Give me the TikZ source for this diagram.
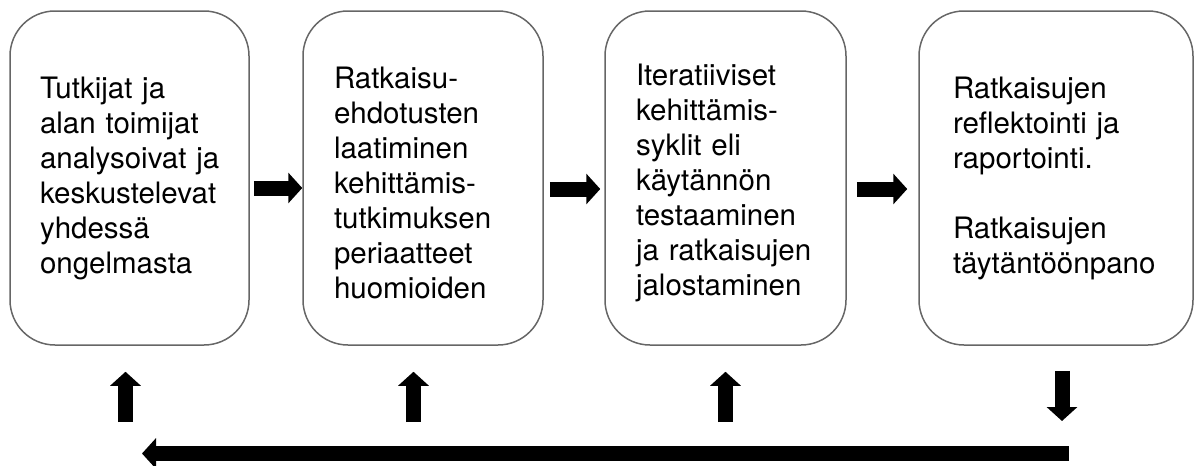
\documentclass[tikz,border=0pt]{standalone}
\usepackage{fontspec}
\setmainfont{TeX Gyre Heros}
\usetikzlibrary{arrows.meta}

\begin{document}
\begin{tikzpicture}[x=1pt,y=-1pt,
	box/.style={shape=rectangle,draw=black!60,line width=1.5pt,rounded corners=45pt,
		minimum height=334pt,align=left,inner ysep=0pt,
		font=\fontsize{29.5pt}{35pt}\selectfont,
		execute at begin node={\hyphenpenalty=10000\relax}},
	blockarrow/.style={line width=15pt,-{Triangle[width=30pt,length=14pt]}}]
	
	\useasboundingbox (0,0) rectangle (1195,466);
	
	\node[box,inner xsep=30pt,text width=179pt] (b1) at (129.5,178) {Tutkijat~ja\\alan~toimijat\\analysoivat~ja\\keskustelevat\\yhdessä\\ongelmasta};
	\node[box,inner xsep=31pt,text width=178pt] (b2) at (423,178) {\rule{0pt}{32pt}Ratkaisu-\\ehdotusten\\laatiminen\\kehittämis-\\tutkimuksen\\periaatteet\\huomioiden};
	\node[box,inner xsep=31pt,text width=179pt] (b3) at (725.5,178) {\rule{0pt}{32pt}Iteratiiviset\\kehittämis-\\syklit~eli\\käytännön\\testaaminen\\ja~ratkaisujen\\jalostaminen};
	\node[box,inner xsep=34pt,text width=206pt] (b4) at (1056,178) {Ratkaisujen\\reflektointi~ja\\raportointi.\\[35pt]Ratkaisujen\\täytäntöönpano};
	
	\coordinate (u1) at (125.5,422);
	\coordinate (u2) at (413.5,422);
	\coordinate (u3) at (725.5,422);
	\coordinate (dn) at (1062,421);
	\coordinate (fbR) at (1069,453.5);
	\coordinate (fbL) at (142,453.5);
	
	\draw[blockarrow,shorten <=4pt] ([yshift=-10pt]b1.east) -- ([yshift=-10pt]b2.west);
	\draw[blockarrow,shorten <=6pt,shorten >=4pt] ([yshift=-11pt]b2.east) -- ([yshift=-11pt]b3.west);
	\draw[blockarrow,shorten <=10pt,shorten >=11pt] ([yshift=-11pt]b3.east) -- ([yshift=-11pt]b4.west);
	
	\draw[blockarrow,shorten <=25pt] (dn |- b4.south) -- (dn);
	\draw[blockarrow] (fbR) -- (fbL);
	\draw[blockarrow,shorten >=26pt] (u1) -- (u1 |- b1.south);
	\draw[blockarrow,shorten >=26pt] (u2) -- (u2 |- b2.south);
	\draw[blockarrow,shorten >=26pt] (u3) -- (u3 |- b3.south);
	
\end{tikzpicture}
\end{document}
